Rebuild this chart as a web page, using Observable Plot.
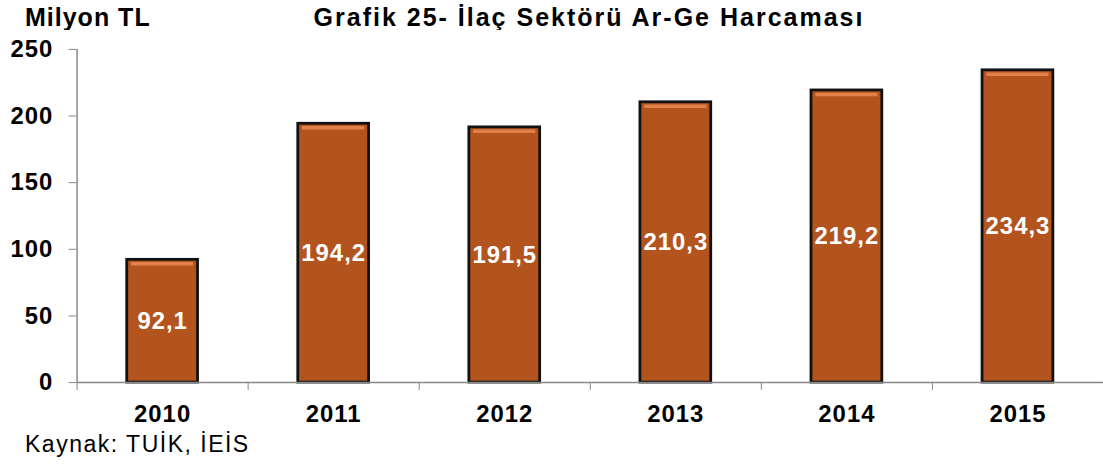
<!DOCTYPE html>
<html><head><meta charset="utf-8">
<script src="https://cdn.jsdelivr.net/npm/d3@7"></script>
<script src="https://cdn.jsdelivr.net/npm/@observablehq/plot@0.6"></script>
<style>
html,body{margin:0;background:#fff;overflow:hidden;}
body{font-family:"Liberation Sans",Arial,sans-serif;}
#wrap{position:relative;width:1103px;height:468px;overflow:hidden;}
.hdr{position:absolute;font-weight:bold;font-size:25px;line-height:25px;color:#000;white-space:nowrap;letter-spacing:1px}
#unit{left:25px;top:5px}
#title{left:589px;top:5px;transform:translateX(-50%);letter-spacing:2px}
#chart{position:absolute;left:0;top:30px}
#src{position:absolute;left:25px;top:433px;font-size:23px;line-height:23px;letter-spacing:1.5px;color:#000;white-space:nowrap}
</style></head><body>
<div id="wrap">
<div class="hdr" id="unit">Milyon TL</div>
<div class="hdr" id="title">Grafik 25- İlaç Sektörü Ar-Ge Harcaması</div>
<div id="chart"></div>
<div id="src">Kaynak: TUİK, İEİS</div>
</div>
<script>
const years = [2010, 2011, 2012, 2013, 2014, 2015];
const values = [92.1, 194.2, 191.5, 210.3, 219.2, 234.3];
const valueLabels = ["92,1", "194,2", "191,5", "210,3", "219,2", "234,3"];
const yTicks = [0, 50, 100, 150, 200, 250];

const data = years.map((year, i) => ({year, value: values[i], label: valueLabels[i]}));
const boundaries = years.map(y => y - 0.5).concat([years[years.length - 1] + 0.5]);
const half = 0.207;   // half bar width in category units
const inset = 0.025;

const chart = Plot.plot({
  width: 1109,
  height: 400,
  marginLeft: 77,
  marginRight: 0,
  marginTop: 19,
  marginBottom: 46,
  style: {fontFamily: '"Liberation Sans", Arial, sans-serif', fontSize: "24px", fontWeight: "bold", letterSpacing: "1px", background: "#fff", overflow: "visible"},
  x: {domain: [years[0] - 0.5, years[years.length - 1] + 0.5], axis: null},
  y: {domain: [0, 250], axis: null},
  marks: [
    Plot.rectY(data, {x1: d => d.year - half, x2: d => d.year + half, y: "value", fill: "#B3541E", stroke: "#111", strokeWidth: 2.8}),
    Plot.ruleY(data, {x1: d => d.year - half + inset, x2: d => d.year + half - inset, y: "value", dy: 4, stroke: "#E3804A", strokeWidth: 3.5}),
    Plot.text(data, {x: "year", y: d => d.value / 2, text: "label", fill: "#fff", fontSize: 24, fontWeight: "bold"}),
    Plot.ruleY([0], {stroke: "#888", strokeWidth: 1.5}),
    Plot.ruleX([boundaries[0]], {y1: 0, y2: 250, stroke: "#888", strokeWidth: 1.5}),
    Plot.axisY({ticks: yTicks, tickSize: 8, tickPadding: 16, stroke: "#888", color: "#000", label: null, tickFormat: d => String(d)}),
    Plot.axisX({ticks: boundaries, tickSize: 8, stroke: "#888", tickFormat: () => "", label: null}),
    Plot.axisX({ticks: years, tickSize: 0, tickPadding: 23, color: "#000", label: null, tickFormat: d => String(d)})
  ]
});
document.getElementById("chart").appendChild(chart);
</script>
</body></html>
